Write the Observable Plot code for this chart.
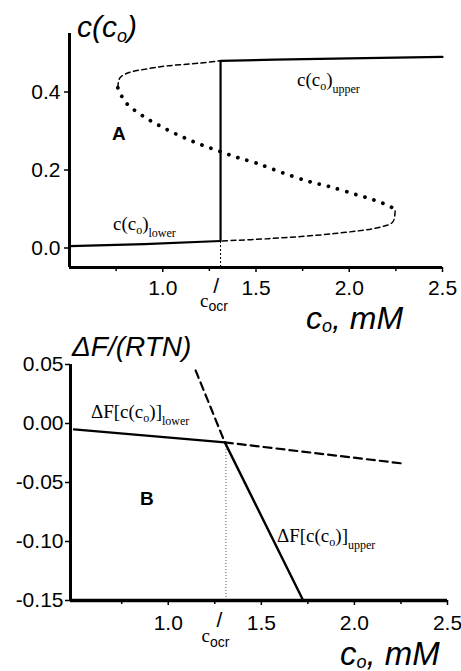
<!DOCTYPE html>
<html><head><meta charset="utf-8">
<script src="https://cdn.jsdelivr.net/npm/d3@7"></script>
<script src="https://cdn.jsdelivr.net/npm/@observablehq/plot@0.6"></script>
<style>
body{margin:0;background:#fff;}
#chart svg{display:block;overflow:visible;}
</style>
</head><body><div id="chart"></div>
<script>
// ---------- data ----------
const cocr = 1.31;
const xTicks = [1.0, 1.5, 2.0, 2.5];
const xMinorTicks = [0.75, 1.25, 1.75, 2.25];
const yTicksA = [0.0, 0.2, 0.4];
const yTicksB = [0.05, 0.00, -0.05, -0.10, -0.15];

// Panel A
const upperStableX = [1.31, 1.6, 2.0, 2.5];
const upperStableY = [0.480, 0.483, 0.486, 0.490];
const lowerStableX = [0.5, 0.9, 1.31];
const lowerStableY = [0.005, 0.010, 0.018];
const upperUnstX = [0.759, 0.77, 0.82, 0.90, 1.025, 1.20, 1.31];
const upperUnstY = [0.411, 0.436, 0.450, 0.458, 0.467, 0.474, 0.480];
const middleX = [0.759, 0.80, 0.895, 0.997, 1.10, 1.20, 1.305, 1.40, 1.50, 1.63, 1.78, 1.889, 2.037, 2.139, 2.228, 2.246];
const middleY = [0.411, 0.374, 0.338, 0.310, 0.286, 0.266, 0.248, 0.232, 0.218, 0.195, 0.171, 0.158, 0.137, 0.122, 0.104, 0.095];
const lowerUnstX = [2.246, 2.234, 2.17, 1.92, 1.57, 1.31];
const lowerUnstY = [0.095, 0.067, 0.054, 0.037, 0.024, 0.018];

// Panel B
const dfLowerX = [0.494, 1.304];
const dfLowerY = [-0.005, -0.016];
const dfLowerUnstX = [1.304, 2.265];
const dfLowerUnstY = [-0.016, -0.034];
const dfUpperX = [1.304, 1.725];
const dfUpperY = [-0.016, -0.150];
const dfUpperUnstX = [1.147, 1.304];
const dfUpperUnstY = [0.045, -0.016];

const zip = (xs, ys) => xs.map((x, i) => ({x, y: ys[i]}));

const baseStyle = {
  fontFamily: "'Liberation Sans', Arial, sans-serif",
  fontSize: "21px",
  color: "#000",
  background: "#fff",
  overflow: "visible"
};
const fmt1 = d => d.toFixed(1);
const fmt2 = d => d.toFixed(2);

// ---------- Panel A ----------
const plotA = Plot.plot({
  width: 461, height: 325,
  marginLeft: 69, marginRight: 19, marginTop: 33, marginBottom: 58,
  x: {domain: [0.5, 2.5], label: null},
  y: {domain: [-0.05, 0.55], label: null},
  style: baseStyle,
  marks: [
    Plot.axisX(xTicks, {tickFormat: fmt1, tickSize: 5, tickPadding: 8, label: null, strokeWidth: 1.5}),
    Plot.axisX(xMinorTicks, {tickFormat: () => "", tickSize: 4, label: null, strokeWidth: 1.5}),
    Plot.axisY(yTicksA, {tickFormat: fmt1, tickSize: 5, tickPadding: 4, label: null, strokeWidth: 1.5}),
    Plot.ruleX([cocr], {y1: -0.05, y2: 0.018, strokeDasharray: "2 2", strokeWidth: 1}),
    Plot.line(zip(lowerUnstX, lowerUnstY), {x: "x", y: "y", curve: "catmull-rom", strokeDasharray: "5 3.5", strokeWidth: 1.5}),
    Plot.line(zip(upperUnstX, upperUnstY), {x: "x", y: "y", curve: "catmull-rom", strokeDasharray: "5 3.5", strokeWidth: 1.5}),
    Plot.line(zip(middleX, middleY), {x: "x", y: "y", curve: "catmull-rom", strokeDasharray: "0.01 9.5", strokeLinecap: "round", strokeWidth: 3.8}),
    Plot.line(zip(lowerStableX, lowerStableY), {x: "x", y: "y", strokeWidth: 2.2}),
    Plot.line(zip(upperStableX, upperStableY), {x: "x", y: "y", strokeWidth: 2.2}),
    Plot.ruleX([cocr], {y1: lowerStableY[lowerStableY.length - 1], y2: upperStableY[0], strokeWidth: 2.2}),
    Plot.ruleY([-0.05], {strokeWidth: 3}),
    Plot.ruleX([0.5], {strokeWidth: 3})
  ]
});

// ---------- Panel B ----------
const plotB = Plot.plot({
  width: 461, height: 346,
  marginLeft: 70, marginRight: 14, marginTop: 39, marginBottom: 71,
  x: {domain: [0.475, 2.5], label: null},
  y: {domain: [-0.15, 0.05], label: null},
  style: baseStyle,
  marks: [
    Plot.axisX(xTicks, {tickFormat: fmt1, tickSize: 5, tickPadding: 10, label: null, strokeWidth: 1.5}),
    Plot.axisX(xMinorTicks, {tickFormat: () => "", tickSize: 4, label: null, strokeWidth: 1.5}),
    Plot.axisY(yTicksB, {tickFormat: fmt2, tickSize: 5, tickPadding: 2, label: null, strokeWidth: 1.5}),
    Plot.ruleX([cocr], {y1: -0.15, y2: dfLowerY[1], strokeDasharray: "1 2", strokeWidth: 1, stroke: "#555"}),
    Plot.line(zip(dfLowerUnstX, dfLowerUnstY), {x: "x", y: "y", strokeDasharray: "8 5", strokeWidth: 2.2}),
    Plot.line(zip(dfUpperUnstX, dfUpperUnstY), {x: "x", y: "y", strokeDasharray: "8 5", strokeWidth: 2.2}),
    Plot.line(zip(dfLowerX, dfLowerY), {x: "x", y: "y", strokeWidth: 2.4}),
    Plot.line(zip(dfUpperX, dfUpperY), {x: "x", y: "y", strokeWidth: 2.4}),
    Plot.ruleY([-0.15], {strokeWidth: 3.5}),
    Plot.ruleX([0.475], {strokeWidth: 3})
  ]
});

// ---------- annotations (real text) ----------
const SANS = "'Liberation Sans', Arial, sans-serif";
const SERIF = "'Liberation Serif', 'Times New Roman', serif";
function label(svg, px, py, parts, o) {
  const t = d3.select(svg).append("text")
    .attr("x", px).attr("y", py)
    .attr("font-family", o.family || SANS)
    .attr("font-size", o.size)
    .attr("font-style", o.style || "normal")
    .attr("font-weight", o.weight || "normal")
    .attr("text-anchor", o.anchor || "start")
    .attr("fill", "#000");
  for (const p of parts) {
    const s = t.append("tspan").text(p.t);
    if (p.dy) s.attr("dy", p.dy);
    if (p.size) s.attr("font-size", p.size);
    if (p.family) s.attr("font-family", p.family);
  }
}
function curveLabel(svg, px, py, pre, sub) {
  label(svg, px, py, [
    {t: pre},
    {t: "o", size: 12, dy: 4},
    {t: ")", dy: -4},
    ...(pre.startsWith("Δ") ? [{t: "]"}] : []),
    {t: sub, size: 12, dy: 7}
  ], {family: SERIF, size: 19});
}

// Panel A texts
label(plotA, 77, 37, [{t: "c(c"}, {t: "o", size: 18, dy: 5}, {t: ")", dy: -5}], {size: 30, style: "italic"});
label(plotA, 306, 329, [{t: "c"}, {t: "o", size: 18, dy: 3}, {t: ", mM", dy: -3}], {size: 32, style: "italic"});
curveLabel(plotA, 297, 86, "c(c", "upper");
curveLabel(plotA, 113, 230, "c(c", "lower");
label(plotA, 112, 140, [{t: "A"}], {size: 19, weight: "bold"});
{
  const sx = plotA.scale("x").apply(cocr);
  label(plotA, sx - 4, 293, [{t: "/"}], {size: 21, anchor: "middle"});
  label(plotA, sx - 20, 307, [{t: "c", family: SERIF}, {t: "ocr", size: 14, dy: 4}], {size: 19});
}

// Panel B texts
label(plotB, 72, 31, [{t: "ΔF/(RTN)"}], {size: 28, style: "italic"});
label(plotB, 340, 340, [{t: "c"}, {t: "o", size: 18, dy: 3}, {t: ", mM", dy: -3}], {size: 33, style: "italic"});
curveLabel(plotB, 91, 93, "ΔF[c(c", "lower");
curveLabel(plotB, 277, 217, "ΔF[c(c", "upper");
label(plotB, 140, 180, [{t: "B"}], {size: 19, weight: "bold"});
{
  const sx = plotB.scale("x").apply(cocr);
  label(plotB, sx - 6, 302, [{t: "/"}], {size: 21, anchor: "middle"});
  label(plotB, sx - 24, 317, [{t: "c", family: SERIF}, {t: "ocr", size: 14, dy: 5}], {size: 19});
}

document.getElementById("chart").append(plotA, plotB);
</script>
</body></html>
